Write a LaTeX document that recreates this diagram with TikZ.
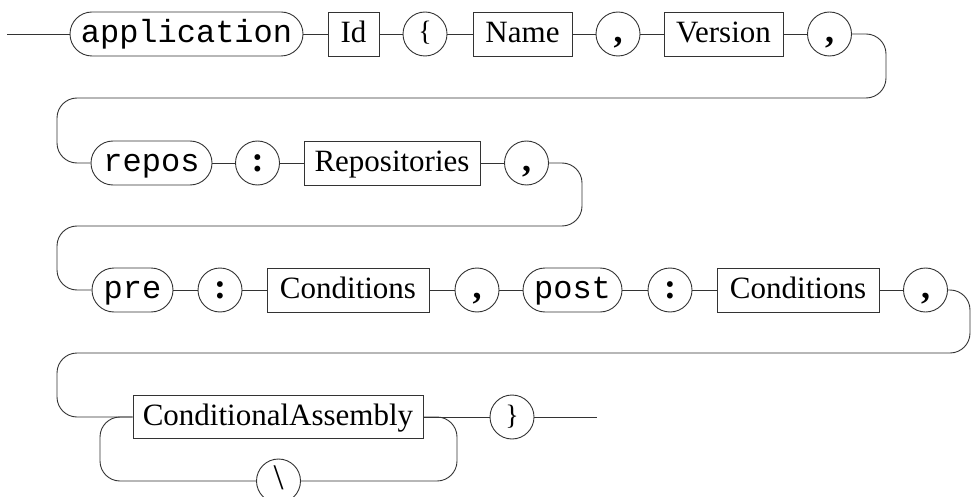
\documentclass[tikz,border=0pt]{standalone}
\usepackage{fontspec}
\setmainfont{Liberation Serif}
\setmonofont{Liberation Mono}
\definecolor{lc}{HTML}{333333}
\begin{document}
\begin{tikzpicture}[x=1pt,y=-1pt,
  conn/.style={draw=lc, line width=0.9pt, rounded corners=20pt},
  term/.style={draw=lc, line width=0.9pt, rectangle, rounded corners=22pt, minimum height=44pt, inner sep=0pt,
    font=\fontsize{32}{36}\ttfamily, text height=22pt, text depth=5pt},
  nterm/.style={draw=lc, line width=0.9pt, rectangle, minimum height=44pt, inner sep=0pt,
    font=\fontsize{31}{36}\selectfont, text height=22pt, text depth=5pt},
  sym/.style={draw=lc, line width=0.9pt, circle, minimum size=44pt, inner sep=0pt,
    font=\fontsize{36}{40}\bfseries, text height=22pt, text depth=5pt},
  brace/.style={sym, font=\fontsize{28}{32}\selectfont, text height=20pt, text depth=6pt}
]
\useasboundingbox (0,0) rectangle (971,497);
% row 1
\coordinate (start) at (7,34);
\node[term, minimum width=233pt] (app) at (186.5,34) {application};
\node[nterm, minimum width=51pt] (id) at (353.5,34) {Id};
\node[brace] (lb) at (425,34) {\{};
\node[nterm, minimum width=99pt] (name) at (522.5,34) {Name};
\node[sym] (c1) at (618,34) {,};
\node[nterm, minimum width=119pt] (ver) at (723.5,34) {Version};
\node[sym] (c2) at (829.5,34) {,};
% row 2
\node[term, minimum width=121pt] (repos) at (151.5,163) {repos};
\node[sym] (k1) at (257.5,163) {:};
\node[nterm, minimum width=176pt] (rep) at (392,163) {Repositories};
\node[sym] (c3) at (526.5,163) {,};
% row 3
\node[term, minimum width=81pt] (pre) at (132.5,290) {pre};
\node[sym] (k2) at (220,290) {:};
\node[nterm, minimum width=162pt] (cond1) at (348,290) {Conditions};
\node[sym] (c4) at (477,290) {,};
\node[term, minimum width=99pt] (post) at (572.5,290) {post};
\node[sym] (k3) at (670,290) {:};
\node[nterm, minimum width=162pt] (cond2) at (798,290) {Conditions};
\node[sym] (c5) at (925.5,290) {,};
% row 4
\node[nterm, minimum width=290pt, minimum height=43pt] (ca) at (278,417) {ConditionalAssembly};
\node[sym, font=\fontsize{36}{40}\selectfont] (bs) at (278.5,481) {\textbackslash};
\node[brace] (rb) at (512,417) {\}};
\coordinate (end) at (597,417);
% connectors
\draw[conn] (start) -- (app);
\draw[conn] (app) -- (id);
\draw[conn] (id) -- (lb);
\draw[conn] (lb) -- (name);
\draw[conn] (name) -- (c1);
\draw[conn] (c1) -- (ver);
\draw[conn] (ver) -- (c2);
\draw[conn] (c2.east) -- (886,34) -- (886,98) -- (57,98) -- (57,163) -- (repos.west);
\draw[conn] (repos) -- (k1);
\draw[conn] (k1) -- (rep);
\draw[conn] (rep) -- (c3);
\draw[conn] (c3.east) -- (582,163) -- (582,226) -- (57,226) -- (57,290) -- (pre.west);
\draw[conn] (pre) -- (k2);
\draw[conn] (k2) -- (cond1);
\draw[conn] (cond1) -- (c4);
\draw[conn] (c4) -- (post);
\draw[conn] (post) -- (k3);
\draw[conn] (k3) -- (cond2);
\draw[conn] (cond2) -- (c5);
\draw[conn] (c5.east) -- (970,290) -- (970,353) -- (57,353) -- (57,417) -- (ca.west);
\draw[conn] (ca.west) -- (100,417) -- (100,481) -- (bs.west);
\draw[conn] (bs.east) -- (457,481) -- (457,417) -- (ca.east);
\draw[conn] (ca.east) -- (rb.west);
\draw[conn] (rb.east) -- (end);
\end{tikzpicture}
\end{document}
